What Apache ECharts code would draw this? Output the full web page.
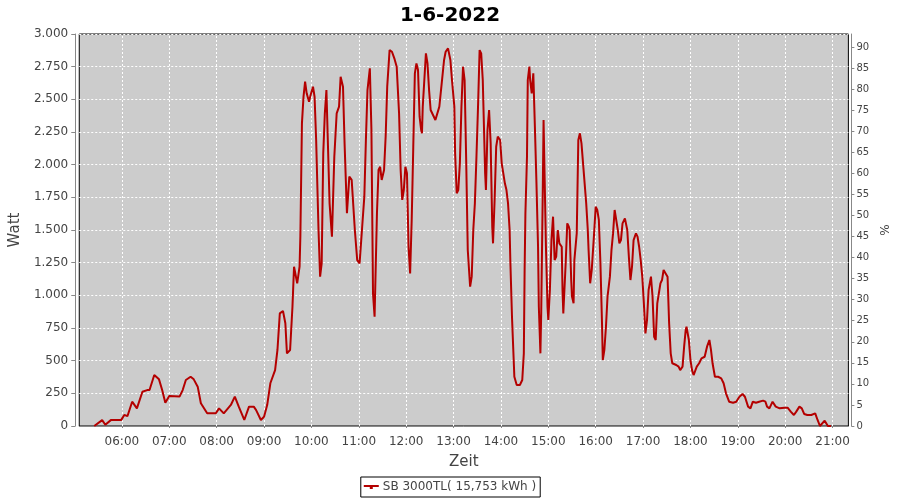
<!DOCTYPE html>
<html>
<head>
<meta charset="utf-8">
<script src="https://cdn.jsdelivr.net/npm/echarts@6/dist/echarts.min.js"></script>
<style>
html,body{margin:0;padding:0;background:#fff;}
#chart{width:900px;height:500px;}
</style>
</head>
<body>
<div id="chart"></div>
<script>
// Minutes since midnight
const times = [325,335,339,346,359,363,367,373,379,386,392,395,401,407,411,415,420,433,437,441,447,451,456,460,468,479,483,489,498,503,508,515,521,527,530,536,540,544,548,554,557,560,564,567,569,573,576,578,582,585,586,588,590,592,594,597,599,602,604,606,609,611,613,615,617,619,621,623,626,629,632,635,637,640,642,645,648,651,655,658,661,664,667,669,671,674,676,678,680,683,685,687,689,692,694,696,699,702,705,708,711,713,715,717,719,721,723,725,727,729,731,733,735,737,739,740,741,743,745,747,749,751,754,757,759,762,765,768,770,773,776,778,781,782,784,786,788,790,792,794,796,798,801,803,805,807,809,811,813,815,817,820,821,823,825,827,829,830,832,834,836,839,841,843,845,847,849,851,852,854,856,857,860,864,867,869,870,871,873,874,876,877,879,881,883,885,887,888,890,891,893,894,895,897,899,900,902,904,906,908,910,912,914,917,918,919,922,924,926,927,929,930,932,933,936,938,940,942,944,946,948,950,951,953,955,958,960,962,964,966,968,969,971,973,975,978,980,982,984,986,988,990,992,994,997,1000,1002,1004,1006,1008,1011,1013,1015,1017,1019,1021,1023,1025,1027,1030,1032,1034,1036,1038,1040,1042,1044,1046,1048,1051,1053,1055,1057,1059,1062,1065,1067,1070,1072,1074,1075,1078,1080,1082,1084,1086,1088,1091,1094,1098,1101,1104,1106,1108,1111,1115,1119,1122,1125,1129,1134,1138,1142,1146,1149,1153,1156,1159,1163,1167,1172,1175,1177,1180,1184,1188,1193,1199,1203,1207,1211,1214,1218,1221,1224,1228,1233,1238,1241,1244,1246,1250,1252,1254,1258];
const watts = [0,45,10,45,45,85,75,186,135,262,275,275,390,357,275,178,230,225,275,352,377,357,301,174,97,97,135,97,161,225,148,46,148,148,122,46,71,160,327,428,582,862,880,786,556,582,913,1219,1092,1219,1449,2316,2520,2635,2546,2482,2533,2597,2520,2189,1500,1143,1245,2087,2393,2571,2137,1704,1449,2061,2393,2444,2673,2597,2163,1628,1908,1883,1500,1270,1245,1500,1755,2189,2571,2737,2265,1015,836,1628,1959,1984,1883,1959,2214,2597,2877,2864,2814,2750,2393,1959,1730,1806,1984,1934,1372,1168,1577,2137,2699,2775,2724,2367,2265,2240,2444,2648,2852,2775,2571,2418,2380,2342,2329,2444,2622,2801,2864,2890,2801,2648,2444,2087,1781,1806,2010,2444,2750,2648,2036,1347,1066,1143,1500,1704,2061,2444,2877,2852,2648,1934,1806,2265,2418,2163,1526,1398,1730,2137,2214,2189,2010,1934,1857,1806,1704,1500,1245,836,530,377,314,314,352,556,1194,1628,2061,2648,2750,2648,2546,2699,2291,1857,1372,913,556,862,1806,2342,2010,1372,913,811,1041,1423,1602,1270,1296,1500,1398,1372,1041,862,1245,1551,1526,1500,1117,990,939,1270,1474,2189,2240,2163,2010,1857,1704,1500,1347,1092,1194,1474,1678,1653,1577,1245,786,505,582,760,990,1143,1347,1474,1653,1577,1500,1398,1423,1551,1589,1500,1296,1117,1219,1423,1474,1449,1372,1270,1143,939,709,811,1041,1143,990,683,658,939,1015,1092,1117,1194,1194,1143,786,556,480,467,467,454,428,454,607,735,760,658,505,428,390,403,454,480,518,530,607,658,582,480,377,377,365,327,250,186,178,186,224,245,224,148,135,186,178,186,194,186,148,135,186,148,135,140,140,110,84,110,148,135,92,84,84,97,46,0,0,41,33,0,0];
const hourTicks = [360,420,480,540,600,660,720,780,840,900,960,1020,1080,1140,1200,1260];
const percentTicks = [0,5,10,15,20,25,30,35,40,45,50,55,60,65,70,75,80,85,90];
const titleText = '1-6-2022';
const seriesName = 'SB 3000TL( 15,753 kWh )';

const pad = n => (n < 10 ? '0' : '') + n;
const fmtTime = m => pad(Math.floor(m / 60)) + ':' + pad(Math.round(m % 60));
const fmtThousand = v => String(v).replace(/\B(?=(\d{3})+(?!\d))/g, '.');

const data = times.map((t, i) => [t, watts[i]]);
const FONT = 'DejaVu Sans';
const labelColor = '#444';
const gridStyle = {color: '#fff', type: [2, 2], width: 1};

const chart = echarts.init(document.getElementById('chart'), null, {renderer: 'canvas'});
chart.setOption({
  animation: false,
  textStyle: {fontFamily: FONT},
  title: {
    text: titleText, left: 'center', top: 1,
    textStyle: {fontFamily: FONT, fontSize: 20, fontWeight: 'bold', color: '#000'}
  },
  legend: {
    left: 'center', top: 477,
    padding: [4, 4, 4, 3],
    borderColor: '#000', borderWidth: 1,
    itemWidth: 15, itemHeight: 7,
    icon: 'path://M0,2.5 L15,2.5 L15,4.5 L0,4.5 Z M6,2.5 L9,2.5 L9,6.5 L6,6.5 Z',
    textStyle: {fontFamily: FONT, fontSize: 12, color: labelColor, padding: [0, 0, 0, -1]},
    data: [seriesName]
  },
  grid: {
    left: 79, right: 51, top: 34, bottom: 74,
    show: true, backgroundColor: '#CCCCCC', borderColor: '#000', borderWidth: 1
  },
  xAxis: {
    type: 'value', min: 306, max: 1280,
    offset: 5,
    name: 'Zeit', nameLocation: 'middle', nameGap: 24,
    nameTextStyle: {fontFamily: FONT, fontSize: 15, color: labelColor},
    axisLine: {lineStyle: {color: '#888'}},
    axisTick: {show: true, length: 2, customValues: hourTicks, lineStyle: {color: '#888'}},
    axisLabel: {customValues: hourTicks, formatter: fmtTime, fontFamily: FONT, fontSize: 12, color: labelColor, margin: 5},
    splitLine: {show: false}
  },
  yAxis: [{
    type: 'value', min: 0, max: 3000, interval: 250,
    offset: 4,
    name: 'Watt', nameLocation: 'middle', nameGap: 47, nameRotate: 90,
    nameTextStyle: {fontFamily: FONT, fontSize: 15, color: labelColor},
    axisLine: {show: true, lineStyle: {color: '#888'}},
    axisTick: {show: true, length: 4, lineStyle: {color: '#888'}},
    axisLabel: {formatter: fmtThousand, fontFamily: FONT, fontSize: 12, color: labelColor, margin: 7},
    splitLine: {show: true, lineStyle: gridStyle}
  }, {
    type: 'value', min: 0, max: 93.08,
    position: 'right', offset: 3,
    name: '%', nameLocation: 'middle', nameGap: 27, nameRotate: 90,
    nameTextStyle: {fontFamily: FONT, fontSize: 12, color: labelColor},
    axisLine: {show: true, lineStyle: {color: '#888'}},
    axisTick: {show: true, length: 3, customValues: percentTicks, lineStyle: {color: '#888'}},
    axisLabel: {customValues: percentTicks, fontFamily: FONT, fontSize: 10, color: labelColor, margin: 5},
    splitLine: {show: false}
  }],
  series: [{
    name: 'hour-grid', type: 'line', yAxisIndex: 0, data: [],
    silent: true, z: 1,
    markLine: {
      silent: true, symbol: ['none', 'none'], animation: false,
      z: 1,
      label: {show: false},
      lineStyle: gridStyle,
      emphasis: {disabled: true},
      data: hourTicks.map(h => ({xAxis: h}))
    }
  }, {
    name: seriesName, type: 'line', yAxisIndex: 0, z: 10,
    data: data, showSymbol: false, symbol: 'none',
    lineStyle: {color: '#B40000', width: 2},
    itemStyle: {color: '#B40000'}
  }]
});
</script>
</body>
</html>
